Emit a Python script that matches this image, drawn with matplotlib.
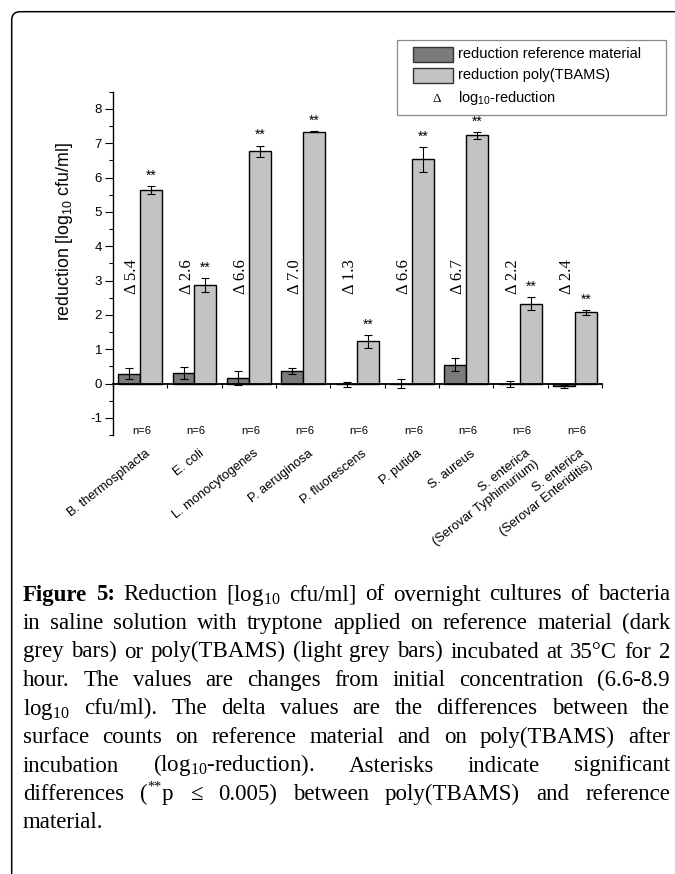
import matplotlib
matplotlib.use('Agg')
import matplotlib.pyplot as plt
import numpy as np
from matplotlib.patches import Rectangle, PathPatch
from matplotlib.path import Path

plt.rcParams['mathtext.default'] = 'regular'
plt.rcParams['axes.unicode_minus'] = False
plt.rcParams['font.family'] = ['Liberation Sans', 'DejaVu Sans']

# ---------------- data ----------------
categories = ['B. thermosphacta', 'E. coli', 'L. monocytogenes', 'P. aeruginosa',
              'P. fluorescens', 'P. putida', 'S. aureus',
              'S. enterica\n(Serovar Typhimurium)', 'S. enterica\n(Serovar Enteriditis)']
ref_mean = [0.29, 0.30, 0.16, 0.36, -0.02, 0.00, 0.55, -0.02, -0.08]
ref_err = [0.15, 0.18, 0.21, 0.09, 0.07, 0.14, 0.18, 0.08, 0.04]
poly_mean = [5.64, 2.87, 6.76, 7.34, 1.23, 6.53, 7.23, 2.33, 2.07]
poly_err = [0.12, 0.21, 0.17, 0.01, 0.19, 0.37, 0.10, 0.20, 0.06]
delta = [5.4, 2.6, 6.6, 7.0, 1.3, 6.6, 6.7, 2.2, 2.4]
n_labels = ['n=6'] * 9
signif = ['**'] * 9
legend_labels = ['reduction reference material', 'reduction poly(TBAMS)', 'log$_{10}$-reduction']

# "^^" marks a superscript part inside a word: "(" + sup("**") + "p"
caption_lines = [
    "Reduction [log$_{10}$ cfu/ml] of overnight cultures of bacteria",
    "in saline solution with tryptone applied on reference material (dark",
    "grey bars) or poly(TBAMS) (light grey bars) incubated at 35°C for 2",
    "hour. The values are changes from initial concentration (6.6-8.9",
    "log$_{10}$ cfu/ml). The delta values are the differences between the",
    "surface counts on reference material and on poly(TBAMS) after",
    "incubation (log$_{10}$-reduction). Asterisks indicate significant",
    "differences (^^**^^p ≤ 0.005) between poly(TBAMS) and reference",
    "material.",
]
caption_bold = "Figure 5:"

# ---------------- figure ----------------
W, H = 675, 874
fig = plt.figure(figsize=(W / 100, H / 100), dpi=100)
fig.patch.set_facecolor('white')

def fx(px):
    return px / W

def fy(py):
    return (H - py) / H

ax_left, ax_right, ax_top, ax_bot = 113, 602, 91.7, 435
ax = fig.add_axes([fx(ax_left), fy(ax_bot), (ax_right - ax_left) / W, (ax_bot - ax_top) / H])
ax.set_facecolor('none')

dark = '#7b7b7b'
light = '#c3c3c3'
x = np.arange(1, len(categories) + 1)
w = 0.4

ax.bar(x - w / 2, ref_mean, w, color=dark, edgecolor='black', linewidth=1.0, zorder=2)
ax.bar(x + w / 2, poly_mean, w, color=light, edgecolor='black', linewidth=1.0, zorder=2)
ax.errorbar(x - w / 2, ref_mean, yerr=ref_err, fmt='none', ecolor='black',
            elinewidth=0.8, capsize=2.7, capthick=0.8, zorder=3)
ax.errorbar(x + w / 2, poly_mean, yerr=poly_err, fmt='none', ecolor='black',
            elinewidth=0.8, capsize=2.7, capthick=0.8, zorder=3)

ax.set_xlim(0.5, len(categories) + 0.5)
ax.set_ylim(-1.5, 8.5)

for s in ['top', 'right']:
    ax.spines[s].set_visible(False)
ax.spines['bottom'].set_position(('data', 0))
ax.spines['bottom'].set_linewidth(1.3)
ax.spines['left'].set_linewidth(1.0)

ax.set_yticks(np.arange(-1, 9, 1))
ax.set_yticks(np.arange(-1.5, 8.6, 0.5), minor=True)
ax.tick_params(axis='y', which='major', direction='out', length=5.5, width=0.8,
               labelsize=9.5, pad=2.4)
ax.tick_params(axis='y', which='minor', direction='out', length=2.7, width=0.8)
ax.set_xticks(np.arange(0.5, len(categories) + 1, 1))
ax.set_xticklabels([])
ax.tick_params(axis='x', which='major', direction='out', length=3, width=0.8)

ax.set_ylabel('reduction [log$_{10}$ cfu/ml]', fontsize=12.8)
ax.yaxis.set_label_coords((75 - ax_left) / (ax_right - ax_left),
                          (ax_bot - 231.5) / (ax_bot - ax_top))

# delta labels
for xi, d in zip(x, delta):
    ax.text(xi - w / 2 + 0.055, 2.62, f'Δ {d:.1f}', rotation=90, ha='center', va='bottom',
            fontsize=12, family=['Liberation Serif', 'DejaVu Serif'], zorder=4)

# significance stars
for xi, m, e, s in zip(x, poly_mean, poly_err, signif):
    ax.annotate(s, xy=(xi + w / 2, m + e), xytext=(0, 2.4), textcoords='offset points',
                ha='center', va='bottom', fontsize=9.8)

# n labels
for xi, n in zip(x, n_labels):
    ax.text(xi + 0.03, -1.37, n, ha='center', va='center', fontsize=8)

# category labels
for xi, c in zip(x, categories):
    ax.text(xi + 0.08, -1.86, c, rotation=38, rotation_mode='anchor', ha='right', va='top',
            multialignment='right', fontsize=9.3, clip_on=False)

# ---------------- manual legend ----------------
fig.add_artist(Rectangle((fx(397), fy(115)), 269 / W, 75 / H, transform=fig.transFigure,
                         fill=False, edgecolor='#8a8a8a', linewidth=0.9))
for (top, col) in [(47, dark), (68, light)]:
    fig.add_artist(Rectangle((fx(413), fy(top + 15)), 40 / W, 15 / H, transform=fig.transFigure,
                             facecolor=col, edgecolor='#333333', linewidth=1.0))
row_y = [54.5, 75.5, 98]
for lab, yy in zip(legend_labels, row_y):
    fig.text(fx(458), fy(yy), lab, ha='left', va='center', fontsize=10.5)
fig.text(fx(437), fy(98.5), 'Δ', ha='center', va='center', fontsize=9.5,
         family=['Liberation Serif', 'DejaVu Serif'])

# ---------------- border ----------------
r = 8.5
bx, by = 11.7, 11.7
verts = [(fx(bx), fy(H + 5)), (fx(bx), fy(by + r)), (fx(bx), fy(by)), (fx(bx + r), fy(by)),
         (fx(W + 5), fy(by))]
codes = [Path.MOVETO, Path.LINETO, Path.CURVE3, Path.CURVE3, Path.LINETO]
fig.add_artist(PathPatch(Path(verts, codes), transform=fig.transFigure, fill=False,
                         edgecolor='black', linewidth=1.1))

# ---------------- caption (justified) ----------------
renderer = fig.canvas.get_renderer()
cap_fam = ['Liberation Serif', 'DejaVu Serif']
cap_fs = 16.5
px_per_pt = 100 / 72
x0, x1 = 23, 670
base0, pitch = 600.5, 28.5


def make_word(word, bold, base):
    """Return list of (Text, dy_px) parts for one word; '^^..^^' is superscript."""
    parts = []
    segs = word.split('^^')
    for k, seg in enumerate(segs):
        if not seg:
            continue
        sup = (k % 2 == 1)
        fs = cap_fs * 0.62 if sup else cap_fs
        dy = cap_fs * px_per_pt * 0.42 if sup else 0
        t = fig.text(0, fy(base - dy), seg, ha='left', va='baseline', fontsize=fs,
                     family=cap_fam, weight='bold' if bold else 'normal')
        parts.append(t)
    return parts


for li, line in enumerate(caption_lines):
    base = base0 + li * pitch
    toks = [(wd, False) for wd in line.split(' ')]
    if li == 0:
        toks = [(wd, True) for wd in caption_bold.split(' ')] + toks
    words = [make_word(wd, b, base) for wd, b in toks]
    part_w = [[p.get_window_extent(renderer).width for p in parts] for parts in words]
    widths = [sum(pw) for pw in part_w]
    if li < len(caption_lines) - 1 and len(words) > 1:
        gap = (x1 - x0 - sum(widths)) / (len(words) - 1)
    else:
        gap = 0.25 * cap_fs * px_per_pt
    xp = x0
    for parts, pw in zip(words, part_w):
        for p, wpart in zip(parts, pw):
            p.set_x(fx(xp))
            xp += wpart
        xp += gap

fig.savefig('out.png', dpi=100, facecolor='white')
